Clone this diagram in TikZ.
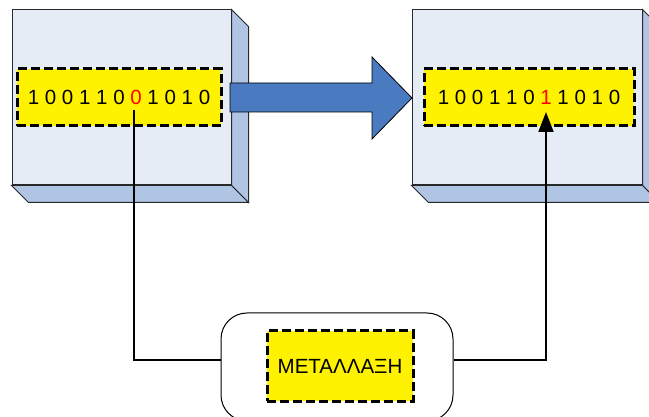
\documentclass[tikz,border=0pt]{standalone}
\usepackage{fontspec}
\setmainfont{Liberation Sans}
\usetikzlibrary{arrows.meta,calc}
\definecolor{facefill}{RGB}{230,236,246}
\definecolor{sidefill}{RGB}{176,196,228}
\definecolor{arrowblue}{RGB}{74,122,191}
\definecolor{edgegray}{RGB}{40,40,40}
\tikzset{
  face/.style={draw=edgegray, line width=1pt, fill=facefill, minimum width=219pt, minimum height=175pt, inner sep=0pt},
  side/.style={draw=edgegray, line width=1pt, fill=sidefill},
  bits/.style={draw=black, line width=3pt, dash pattern=on 9pt off 4pt, fill=yellow, inner sep=0pt, font=\fontsize{20.5}{24}\selectfont},
  conn/.style={draw=black, line width=2pt},
  bigarrow/.style={draw=black, line width=0.8pt, fill=arrowblue},
  holder/.style={draw=black, line width=1pt, fill=white, rounded corners=26pt, minimum width=232pt, minimum height=108pt, inner sep=0pt},
}
\newcommand{\hot}[1]{\textcolor{red}{#1}}
\begin{document}
\begin{tikzpicture}[x=1pt,y=-1pt]
\useasboundingbox (0,0) rectangle (649,417);
\clip (0,0) rectangle (649,417);

% left block: front face plus right and bottom sides
\node[face] (L) at (121.5,97.5) {};
\draw[side] (L.north east) -- ++(17,17) -- ($(L.south east)+(17,17)$) -- (L.south east) -- cycle;
\draw[side] (L.south west) -- ++(17,17) -- ($(L.south east)+(17,17)$) -- (L.south east) -- cycle;

% right block
\node[face, minimum width=230pt] (R) at (527,97.5) {};
\draw[side] (R.north east) -- ++(17,17) -- ($(R.south east)+(17,17)$) -- (R.south east) -- cycle;
\draw[side] (R.south west) -- ++(17,17) -- ($(R.south east)+(17,17)$) -- (R.south east) -- cycle;

% transfer arrow between the blocks
\draw[bigarrow] (230,83) -- (372,83) -- (372,57) -- (412,98) -- (372,139) -- (372,112) -- (230,112) -- cycle;

% bit strings
\node[bits, minimum width=204pt, minimum height=57pt] (A) at (119,97.5) {1 0 0 1 1 0 \hot{0} 1 0 1 0};
\node[bits, minimum width=210pt, minimum height=57pt] (B) at (529,97.5) {1 0 0 1 1 0 \hot{1} 1 0 1 0};

% mutation operator
\node[holder] (M) at (337,367) {};
\node[bits, minimum width=146pt, minimum height=70pt] (X) at (340,366) {ΜΕΤΑΛΛΑΞΗ};

% connectors through the operator
\coordinate (src) at (134,110);
\coordinate (dst) at (546,112);
\draw[conn] (src) |- ([yshift=7pt]M.west);
\draw[conn, -{Triangle[length=20pt,width=15pt]}] ([yshift=7pt]M.east) -| (dst);
\end{tikzpicture}
\end{document}
